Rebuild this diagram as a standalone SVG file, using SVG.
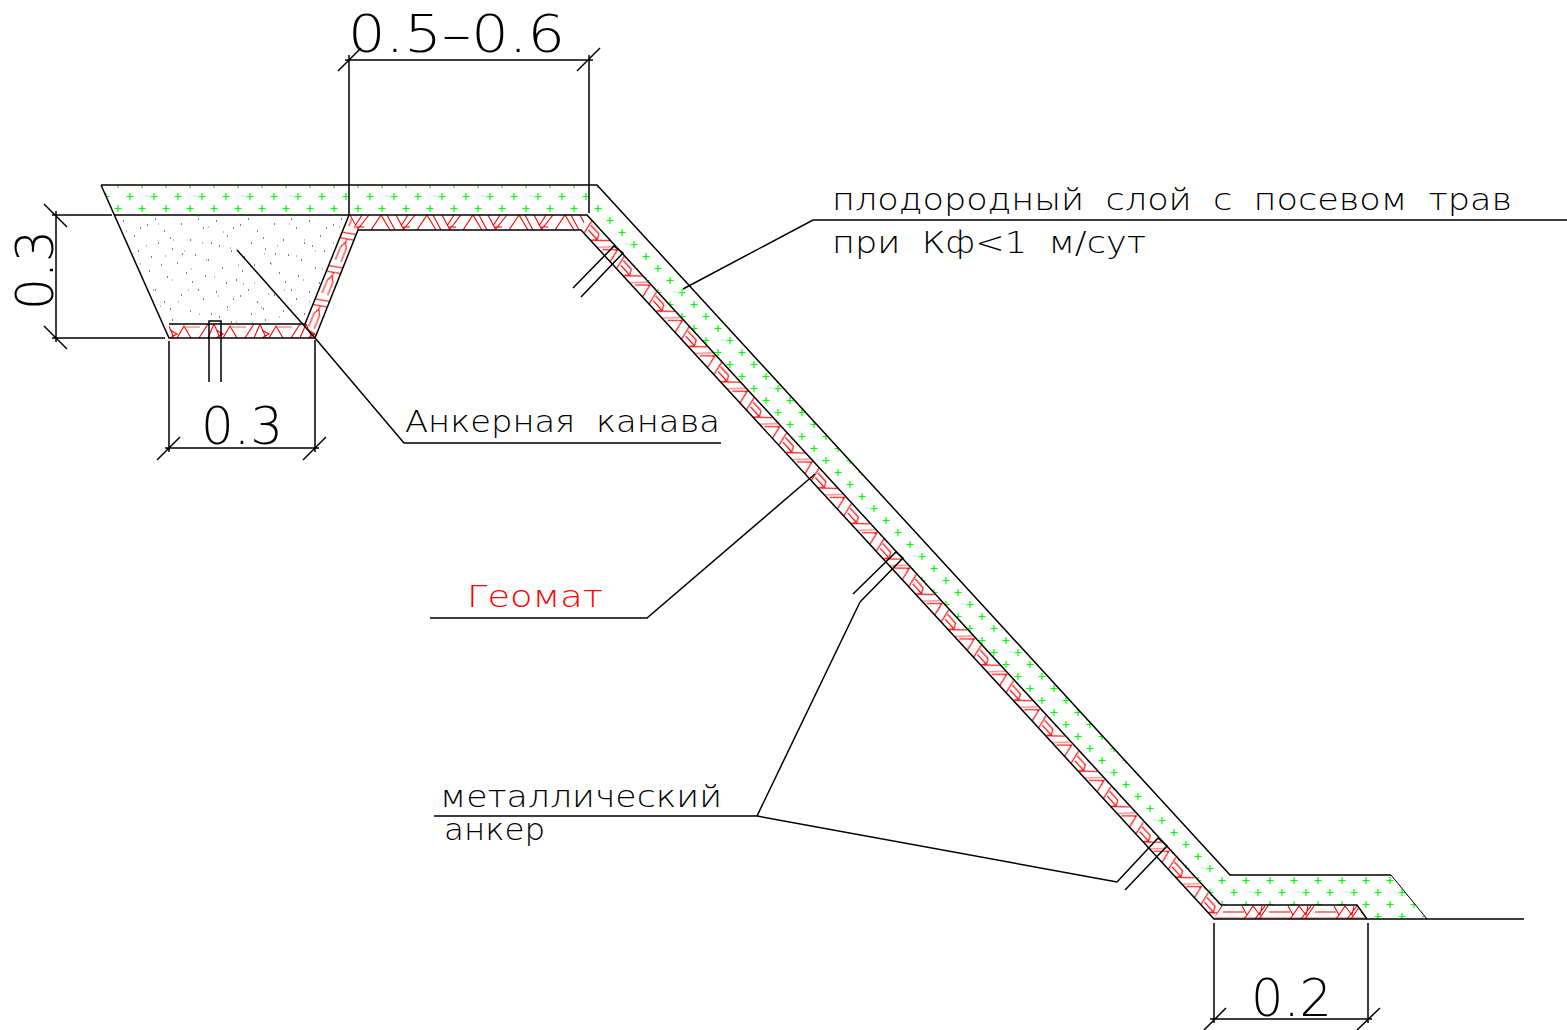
<svg xmlns="http://www.w3.org/2000/svg" width="1567" height="1030" viewBox="0 0 1567 1030">
<style>
.l{fill:none;stroke:#000;stroke-width:1.5}
.t{font-family:"DejaVu Sans","Liberation Sans",sans-serif;font-weight:200;font-size:31px;word-spacing:9px;fill:#000}
.d{font-family:"DejaVu Sans","Liberation Sans",sans-serif;font-weight:200;font-size:52px;fill:#000}
.h{fill:none;stroke:#f00;stroke-width:1.1}
.p{fill:none;stroke:#f88;stroke-width:1.4}
</style>
<defs>
<pattern id="grass" width="24" height="24" patternUnits="userSpaceOnUse" patternTransform="translate(118,196)">
<path d="M12 -3V4M8.5 0.5H15.5M0 9V16M-3.5 12.5H3.5M24 9V16M20.5 12.5H27.5M12 21V28M8.5 24.5H15.5" fill="none" stroke="#0f0" stroke-width="1.2"/>
</pattern>
<pattern id="s1" width="93" height="71" patternUnits="userSpaceOnUse" patternTransform="translate(120,216)">
<path d="M3 5h1M14 20h1M27 9h1M31 41h1M9 52h1M44 15h1M52 33h1M61 8h1M70 24h1M83 12h1M88 44h1M66 57h1M47 61h1M23 64h1M75 39h1M38 27h1M18 35h1M57 47h1M6 30h1M20 12h1M35 3h1M50 22h1M41 49h1M29 55h1M78 3h1M91 27h1M62 38h1M72 66h1M85 60h1M13 67h1" stroke="#000" stroke-width="1" fill="none"/>
</pattern>
<pattern id="s2" width="131" height="113" patternUnits="userSpaceOnUse" patternTransform="translate(118,218)">
<path d="M8 13h1M22 46h1M40 6h1M55 22h1M73 51h1M90 9h1M112 30h1M125 66h1M100 78h1M81 96h1M60 84h1M35 72h1M12 90h1M48 107h1M118 104h1M66 33h1M96 59h1M28 28h1M5 65h1M15 36h1M47 38h1M84 25h1M105 14h1M120 47h1M109 92h1M70 72h1M30 99h1M54 62h1M88 42h1M3 105h1M76 108h1M100 110h1M42 88h1M19 76h1" stroke="#777" stroke-width="1" fill="none"/>
</pattern>
<pattern id="hTop" width="46" height="15" patternUnits="userSpaceOnUse" patternTransform="translate(371,215)">
<path class="h" d="M0 15L10 0L19 15M16 0L24 15M25 0L33 15M44 0L32 15M37 0L30 11M31 12H39"/>
</pattern>
<pattern id="hSlope" width="48" height="14.5" patternUnits="userSpaceOnUse" patternTransform="translate(587,215) rotate(47.5)">
<path class="h" d="M21 14.5L35.6 -0.8M36 12L46.5 0.5M11.5 14.5L7.5 0M2 14.5L-2 0M50 14.5L46 0M12 9H24M10 4H22M22 4L25 9L21 14.5"/>
<path class="p" d="M30.5 14.5L43 0"/>
</pattern>
<pattern id="hLeft" width="36" height="14" patternUnits="userSpaceOnUse" patternTransform="translate(305,325) rotate(-68.2)">
<path class="h" d="M0 4H14M0 10H14M14 4L20 7L14 10M20 7H24M22 0L25 14M28 0L31 14"/>
</pattern>
<pattern id="hBot" width="46" height="14" patternUnits="userSpaceOnUse" patternTransform="translate(170,324)">
<path class="h" d="M7 14L14 2L21 14M29 14L38 0M38 14L44 0L50 14M-8 14L-2 0L4 14M0 6L7 10L0 14"/>
<path class="p" d="M15 3H30"/>
</pattern>
<pattern id="hRight" width="46" height="14" patternUnits="userSpaceOnUse" patternTransform="translate(1240,905)">
<path class="p" d="M0 13H46"/>
<path class="h" d="M2 1L7 10L13 1M13 1L20 10L22 1M28 1L19 14M25 1L15 14M29 7H46M0 7H4M4 14L7 10"/>
</pattern>
</defs>
<g id="soil">
<polygon points="101,185 597,185 1229,874 1392,874 1427,919 1367,919 1357,905 1221,905 587,215 114,215" fill="url(#grass)"/>
<polygon points="114,215 349,215 305,324 169,324" fill="url(#s1)"/>
<polygon points="114,215 349,215 305,324 169,324" fill="url(#s2)"/>
</g>
<g id="geomat">
<polygon points="349,215 587,215 581,230 358,230" fill="#fff"/>
<polygon points="587,215 1221,905 1214,919 581,230" fill="#fff"/>
<polygon points="1221,905 1357,905 1367,919 1214,919" fill="#fff"/>
<polygon points="349,215 587,215 581,230 358,230" fill="url(#hTop)"/>
<polygon points="587,215 1221,905 1214,919 581,230" fill="url(#hSlope)"/>
<polygon points="349,215 358,230 315,338 305,324" fill="url(#hLeft)"/>
<rect x="169" y="324" width="146" height="14" fill="url(#hBot)"/>
<polygon points="1221,905 1357,905 1367,919 1214,919" fill="url(#hRight)"/>
</g>
<g id="outline">
<path class="l" d="M101 185H597L1230 875H1391"/>
<path d="M1391 875L1427 919" fill="none" stroke="#000" stroke-width="1"/>
<path class="l" d="M114 215H587L1221 905H1357L1367 919"/>
<path class="l" d="M101 185L169 338H315L358 230H581L1214 919H1524"/>
<path class="l" d="M169 324H305L349 215"/>
</g>
<g id="anchors">
<path class="l" d="M209 382V321H221V382"/>
<path class="l" d="M573 288L614 246L623 253L581 297"/>
<path class="l" d="M853 594L896 552L903 558L860 602"/>
<path class="l" d="M1117 882L1158 838L1167 846L1125 890"/>
</g>
<g id="connectors">
<path class="l" d="M683 289L813 220H1567"/>
<path class="l" d="M237 250L315 338L404 443H721"/>
<path class="l" d="M815 474L647 618H430"/>
<path class="l" d="M434 816H757L860 602M757 816L1117 882"/>
</g>
<g id="dimensions">
<path class="l" d="M349 215V55M589 213V55M345 60H593M338 71L361 48M577 71L600 48"/>
<path class="l" d="M112 215H52M165 338H52M56 211V342M44 204L67 227M44 326L67 349"/>
<path class="l" d="M169 341V452M315 340V452M165 448H319M157 460L180 437M303 460L326 437"/>
<path class="l" d="M1214 923V1023M1368 923V1023M1210 1019H1372M1204 1030L1226 1008M1357 1030L1380 1008"/>
</g>
<g id="labels">
<text class="t" x="832" y="210" textLength="680" lengthAdjust="spacingAndGlyphs">плодородный слой с посевом трав</text>
<text class="t" x="832" y="253" textLength="314" lengthAdjust="spacingAndGlyphs">при Кф&lt;1 м/сут</text>
<text class="t" x="405" y="432" textLength="315" lengthAdjust="spacingAndGlyphs">Анкерная канава</text>
<text class="t" x="467" y="607" textLength="136" lengthAdjust="spacingAndGlyphs" style="fill:#f00">Геомат</text>
<text class="t" x="440" y="807" textLength="282" lengthAdjust="spacingAndGlyphs">металлический</text>
<text class="t" x="444" y="840" textLength="101" lengthAdjust="spacingAndGlyphs">анкер</text>
<text class="d" x="348" y="52" textLength="217" lengthAdjust="spacingAndGlyphs">0.5–0.6</text>
<text class="d" x="201" y="444" textLength="82" lengthAdjust="spacingAndGlyphs">0.3</text>
<text class="d" x="1251" y="1016" textLength="81" lengthAdjust="spacingAndGlyphs">0.2</text>
<text class="d" transform="translate(53,310) rotate(-90)" textLength="80" lengthAdjust="spacingAndGlyphs">0.3</text>
</g>
</svg>
